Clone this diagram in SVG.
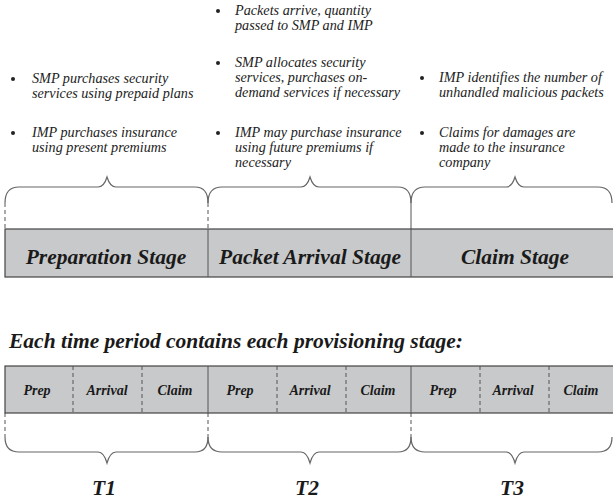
<svg xmlns="http://www.w3.org/2000/svg" width="613" height="502" viewBox="0 0 613 502">
<style>
text{font-family:"Liberation Serif","Times New Roman",serif;font-style:italic}
.b{font-size:14.2px;fill:#222}
.h{font-weight:bold;fill:#1a1a1a;text-anchor:middle}
.lg{font-size:21.5px}
.sm{font-size:14px}
.bar{fill:#c8c9cb;stroke:#444;stroke-width:1.2}
.div{stroke:#555;stroke-width:1}
.dash{stroke:#555;stroke-width:1;stroke-dasharray:4,3}
.brace{fill:none;stroke:#666;stroke-width:1.2}
.dot{fill:#222}
</style>
<rect width="613" height="502" fill="#fff"/>
<g id="bullets-prep">
<circle class="dot" cx="13" cy="79" r="2"/>
<text class="b" x="32" y="83">SMP purchases security</text>
<text class="b" x="32" y="98">services using prepaid plans</text>
<circle class="dot" cx="13" cy="133" r="2"/>
<text class="b" x="32" y="137">IMP purchases insurance</text>
<text class="b" x="32" y="152">using present premiums</text>
</g>
<g id="bullets-arrival">
<circle class="dot" cx="218" cy="11" r="2"/>
<text class="b" x="235" y="15">Packets arrive, quantity</text>
<text class="b" x="235" y="30">passed to SMP and IMP</text>
<circle class="dot" cx="218" cy="63" r="2"/>
<text class="b" x="235" y="67">SMP allocates security</text>
<text class="b" x="235" y="82">services, purchases on-</text>
<text class="b" x="235" y="97">demand services if necessary</text>
<circle class="dot" cx="218" cy="133" r="2"/>
<text class="b" x="235" y="137">IMP may purchase insurance</text>
<text class="b" x="235" y="152">using future premiums if</text>
<text class="b" x="235" y="167">necessary</text>
</g>
<g id="bullets-claim">
<circle class="dot" cx="422" cy="78" r="2"/>
<text class="b" x="439" y="82">IMP identifies the number of</text>
<text class="b" x="439" y="97">unhandled malicious packets</text>
<circle class="dot" cx="422" cy="133" r="2"/>
<text class="b" x="439" y="137">Claims for damages are</text>
<text class="b" x="439" y="152">made to the insurance</text>
<text class="b" x="439" y="167">company</text>
</g>
<g id="connectors">
<path class="brace" d="M5,203 Q5,187 19,187 H98 Q104,187 107,177 Q110,187 116,187 H195 Q208,187 208,203"/>
<path class="brace" d="M208,203 Q208,187 222,187 H301 Q307,187 310,177 Q313,187 319,187 H398 Q411,187 411,203"/>
<path class="brace" d="M411,203 Q411,187 425,187 H506 Q512,187 515,177 Q518,187 524,187 H598 Q612,187 612,203"/>
<line class="dash" x1="5" y1="203" x2="5" y2="229"/>
<line class="dash" x1="208" y1="203" x2="208" y2="229"/>
<line class="div" x1="411" y1="203" x2="411" y2="229"/>
<line class="dash" x1="5" y1="413" x2="5" y2="437"/>
<line class="dash" x1="208" y1="413" x2="208" y2="437"/>
<line class="dash" x1="411" y1="413" x2="411" y2="437"/>
<path class="brace" d="M5,437 Q5,452 19,452 H98 Q104,452 107,463 Q110,452 116,452 H195 Q208,452 208,437"/>
<path class="brace" d="M208,437 Q208,452 222,452 H301 Q307,452 310,463 Q313,452 319,452 H398 Q411,452 411,437"/>
<path class="brace" d="M411,437 Q411,452 425,452 H506 Q512,452 515,463 Q518,452 524,452 H598 Q612,452 612,437"/>
</g>
<g id="stage-bar">
<rect class="bar" x="5" y="229" width="610" height="48"/>
<line class="div" x1="208" y1="229" x2="208" y2="277"/>
<line class="div" x1="411" y1="229" x2="411" y2="277"/>
<text class="h lg" x="106" y="264">Preparation Stage</text>
<text class="h lg" x="310" y="264">Packet Arrival Stage</text>
<text class="h lg" x="515" y="264">Claim Stage</text>
</g>
<text class="h lg" x="9" y="348" style="text-anchor:start">Each time period contains each provisioning stage:</text>
<g id="period-bar">
<rect class="bar" x="5" y="366" width="610" height="47"/>
<line class="dash" x1="73" y1="366" x2="73" y2="413"/>
<line class="dash" x1="142" y1="366" x2="142" y2="413"/>
<line class="div" x1="208" y1="366" x2="208" y2="413"/>
<line class="dash" x1="277" y1="366" x2="277" y2="413"/>
<line class="dash" x1="346" y1="366" x2="346" y2="413"/>
<line class="div" x1="411" y1="366" x2="411" y2="413"/>
<line class="dash" x1="480" y1="366" x2="480" y2="413"/>
<line class="dash" x1="549" y1="366" x2="549" y2="413"/>
<text class="h sm" x="37" y="395">Prep</text>
<text class="h sm" x="107" y="395">Arrival</text>
<text class="h sm" x="175" y="395">Claim</text>
<text class="h sm" x="240" y="395">Prep</text>
<text class="h sm" x="310" y="395">Arrival</text>
<text class="h sm" x="378" y="395">Claim</text>
<text class="h sm" x="443" y="395">Prep</text>
<text class="h sm" x="513" y="395">Arrival</text>
<text class="h sm" x="581" y="395">Claim</text>
</g>
<g id="periods">
<text class="h lg" x="104" y="495">T1</text>
<text class="h lg" x="307" y="495">T2</text>
<text class="h lg" x="512" y="495">T3</text>
</g>
</svg>
